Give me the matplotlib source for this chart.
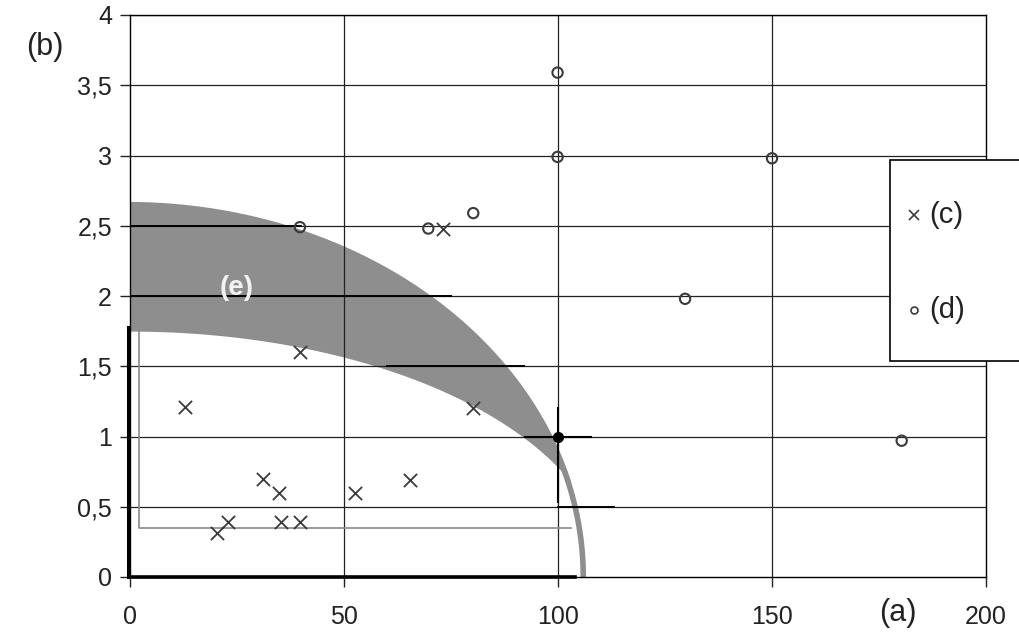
import matplotlib
matplotlib.use("Agg")
import matplotlib.pyplot as plt
import numpy as np
from matplotlib.lines import Line2D
from matplotlib.patches import Rectangle

# Scatter data.
c_x = [12.9, 39.7, 20.3, 23.0, 31.1, 34.7, 35.3, 39.7, 52.6, 65.4, 80.2, 73.2]
c_y = [1.21, 1.60, 0.31, 0.39, 0.70, 0.60, 0.39, 0.39, 0.60, 0.69, 1.20, 2.48]

d_x = [39.7, 69.7, 80.2, 99.9, 99.9, 150.0, 129.7, 180.3]
d_y = [2.49, 2.48, 2.59, 3.59, 2.99, 2.98, 1.98, 0.97]

# Reference point with its cross bars.
ref_x = [100]
ref_y = [1.0]
ref_xerr = [8]
ref_yerr = [[0.47], [0.21]]

# Band (e): outer and inner ellipse (semi axis x, semi axis y).
outer_a, outer_b = 106.5, 2.65
inner_a, inner_b = 111.7, 1.75

# Thin gray frame inside the plot.
frame_x = [2, 2, 103]
frame_y = [1.75, 0.35, 0.35]

# Heavier grid pieces left over from the overlaid chart: (y, x start, x end).
heavy_segments = [(2.5, 0, 40), (2.0, 0, 75), (1.5, 60, 92), (0.5, 100, 113)]

xticks = [0, 50, 100, 150, 200]
yticks = [0, 0.5, 1, 1.5, 2, 2.5, 3, 3.5, 4]
ytick_labels = ["0", "0,5", "1", "1,5", "2", "2,5", "3", "3,5", "4"]

legend_labels = ["(c)", "(d)"]

plt.rcParams["font.family"] = ["Liberation Sans", "DejaVu Sans"]

fig = plt.figure(figsize=(10.19, 6.37), dpi=100)
ax = fig.add_axes([130 / 1019, 1 - 577 / 637, 856 / 1019, 562 / 637])
ax.set_xlim(0, 200)
ax.set_ylim(0, 4)

band_gray = "#8e8e8e"
ink = "#222222"

# Band between the two ellipses.
xs = np.linspace(0, 103.2, 600)
outer = outer_b * np.sqrt(np.clip(1 - (xs / outer_a) ** 2, 0, None))
inner = inner_b * np.sqrt(np.clip(1 - (xs / inner_a) ** 2, 0, None))
inner = np.minimum(inner, outer)
ax.fill_between(xs, inner, outer, color=band_gray, lw=0, zorder=1)

# Thin tail of the outer ellipse down to the axis.
t = np.linspace(0, np.pi / 2, 300)
ax.plot(outer_a * np.sin(t) - 0.6, outer_b * np.cos(t), color=band_gray, lw=4,
        zorder=1, solid_capstyle="butt")

# Grid.
for y in yticks[1:]:
    ax.axhline(y, color=ink, lw=0.9, zorder=2)
for x in xticks[1:-1]:
    ax.axvline(x, color=ink, lw=0.9, zorder=2)
for y, x0, x1 in heavy_segments:
    ax.plot([x0, x1], [y, y], color="black", lw=1.4, zorder=2)

ax.plot(frame_x, frame_y, color="#8a8a8a", lw=1.2, zorder=2)

# Heavy axis pieces.
ax.plot([0, 104], [0, 0], color="black", lw=2.6, zorder=3, clip_on=False)
ax.plot([-0.4, -0.4], [0, 1.78], color="black", lw=2.2, zorder=3, clip_on=False)

# Markers.
ax.scatter(c_x, c_y, marker="x", s=90, color="#3a3a3a", linewidths=1.3, zorder=4)
ax.scatter(d_x, d_y, marker="o", s=55, facecolors="none", edgecolors="#3a3a3a",
           linewidths=1.5, zorder=4)
ax.errorbar(ref_x, ref_y, xerr=ref_xerr, yerr=ref_yerr, fmt="o", ms=7,
            color="black", ecolor="black", elinewidth=1.5, capsize=0, zorder=4)

ax.text(25, 2.06, "(e)", color="#f2f2f2", fontsize=20, fontweight="bold",
        ha="center", va="center", zorder=5)

# Axes styling.
for s in ax.spines.values():
    s.set_color("black")
    s.set_linewidth(1.0)
ax.set_xticks(xticks)
ax.set_xticklabels([str(v) for v in xticks])
ax.set_yticks(yticks)
ax.set_yticklabels(ytick_labels)
ax.tick_params(axis="x", direction="out", length=7, width=1, pad=13,
               labelsize=18, colors=ink)
ax.tick_params(axis="y", direction="out", length=7, width=1, pad=6,
               labelsize=18, colors=ink)

fig.text(45 / 1019, 1 - 47 / 637, "(b)", fontsize=22, ha="center", va="center",
         color=ink)
fig.text(898 / 1019, 1 - 613 / 637, "(a)", fontsize=22, ha="center", va="center",
         color=ink)

# Legend box, running off the right edge.
fig.add_artist(Rectangle((890 / 1019, 1 - 361 / 637), 0.2, 201 / 637,
                         transform=fig.transFigure, facecolor="white",
                         edgecolor="black", lw=1.2, zorder=6))
legend_handles = [dict(marker="x", ms=7, mew=1.2, mfc="#3a3a3a"),
                  dict(marker="o", ms=5, mew=1.2, mfc="none")]
for i, (lab, style) in enumerate(zip(legend_labels, legend_handles)):
    yy = 1 - (215 + 95 * i) / 637
    fig.add_artist(Line2D([914 / 1019], [yy], ls="none", color="#3a3a3a",
                          mec="#3a3a3a", transform=fig.transFigure, zorder=7,
                          **style))
    fig.text(929 / 1019, yy, lab, fontsize=21, ha="left", va="center",
             color=ink, zorder=7)

fig.savefig("out.png", dpi=100)
